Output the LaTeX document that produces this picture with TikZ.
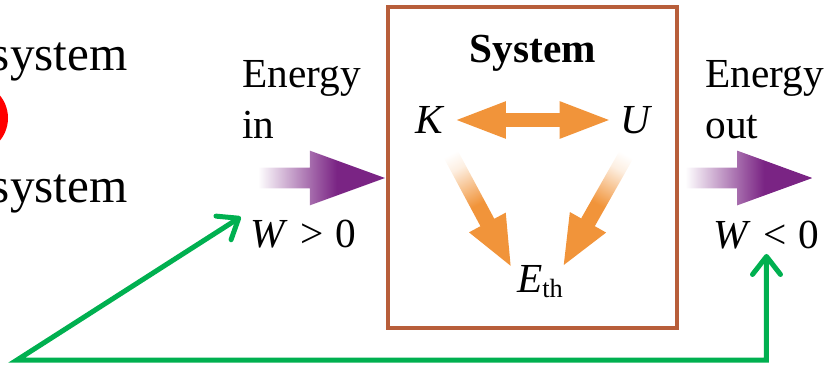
\documentclass[tikz,border=0pt]{standalone}
\usepackage{fontspec}
\setmainfont{Liberation Serif}
\usetikzlibrary{shapes.arrows,arrows.meta}
\definecolor{boxbrown}{RGB}{184,94,58}
\definecolor{sysorange}{RGB}{241,148,58}
\definecolor{enpurple}{RGB}{122,36,132}
\definecolor{pointgreen}{RGB}{0,176,80}
\pgfdeclarehorizontalshading{orfade}{100bp}{color(0bp)=(white); color(22bp)=(white); color(30bp)=(sysorange!15); color(50bp)=(sysorange); color(100bp)=(sysorange)}
\pgfdeclarehorizontalshading{purfade}{100bp}{color(0bp)=(white); color(25bp)=(white); color(48bp)=(enpurple!75); color(56bp)=(enpurple); color(100bp)=(enpurple)}
\begin{document}
\begin{tikzpicture}[
  big/.style={font=\fontsize{23.5}{29}\selectfont,inner sep=1pt},
  side/.style={font=\fontsize{28}{34}\selectfont,inner sep=0pt,anchor=base east},
  sym/.style={big,inner sep=1pt},
  title/.style={big,font=\fontsize{23.5}{29}\selectfont\bfseries,anchor=base},
  enarrow/.style={single arrow,shading=purfade,inner xsep=0pt,inner ysep=0.20cm,minimum width=0pt,
    minimum height=2.54cm,single arrow head extend=0.34cm,single arrow tip angle=40},
  fadearrow/.style={single arrow,shading=orfade,inner xsep=0pt,inner ysep=0.15cm,minimum width=0pt,
    minimum height=2.65cm,single arrow head extend=0.26cm,single arrow tip angle=46},
  swaparrow/.style={double arrow,fill=sysorange,inner xsep=0pt,inner ysep=0.13cm,minimum width=0pt,
    minimum height=3.04cm,double arrow head extend=0.24cm,double arrow tip angle=42},
  gline/.style={pointgreen,line width=0.1cm,{Straight Barb[length=0.36cm,width=0.56cm,round]}-{Straight Barb[length=0.36cm,width=0.56cm,round]}}]

\useasboundingbox (0,0) rectangle (16.78,7.32);
\clip (0,0) rectangle (16.78,7.32);

% Cut-off text on the left edge.
\node[side] (sys1) at (2.56,5.92) {system};
\node[side] (sys2) at (2.56,3.28) {system};
\fill[red] (-0.55,4.96) circle (0.71cm);

% The system box and its energies.
\node[draw=boxbrown,line width=0.08cm,minimum width=5.78cm,minimum height=6.42cm,inner sep=0pt] (box) at (10.65,3.97) {};
\node[title] (systitle) at (10.66,6.08) {System};
\node[sym] (K) at (8.60,4.92) {\textit{K}};
\node[sym] (U) at (12.74,4.92) {\textit{U}};
\node[sym,anchor=base] (Eth) at (10.80,1.48) {\textit{E}\raisebox{-3pt}{\fontsize{15}{15}\selectfont th}};

% Transfers inside the system.
\path (K) -- (U) node[midway,swaparrow] (KU) {};
\path ([xshift=-0.12cm]K.south east) -- ([xshift=-0.12cm]Eth.north west)
  node[midway,sloped,allow upside down,fadearrow,shading angle=-62] (KE) {};
\path (U.south) -- (Eth.north east)
  node[midway,sloped,allow upside down,fadearrow,shading angle=-119] (UE) {};

% Energy in and out.
\node[big,align=left,anchor=north west,inner sep=0pt] (ein) at (4.84,6.12) {Energy\\in};
\node[big,align=left,anchor=north west,inner sep=0pt] (eout) at (14.10,6.12) {Energy\\out};
\node[enarrow,anchor=tip] (inarr) at ([yshift=-0.21cm]box.west) {};
\node[enarrow,anchor=tail] (outarr) at ([xshift=0.12cm,yshift=-0.21cm]box.east) {};
\node[big,anchor=base west,inner sep=0.1cm] (wpos) at (4.90,2.38) {\textit{W}\hspace{.3em}>\hspace{.3em}0};
\node[big,anchor=base west,inner sep=0.1cm] (wneg) at (14.16,2.36) {\textit{W}\hspace{.3em}<\hspace{.3em}0};

% Green pointer to both signs.
\coordinate (gstart) at (0.34,0.12);
\draw[gline,shorten <=0.1cm] (wpos.north west) -- (gstart) -| (wneg.south);
\end{tikzpicture}
\end{document}
